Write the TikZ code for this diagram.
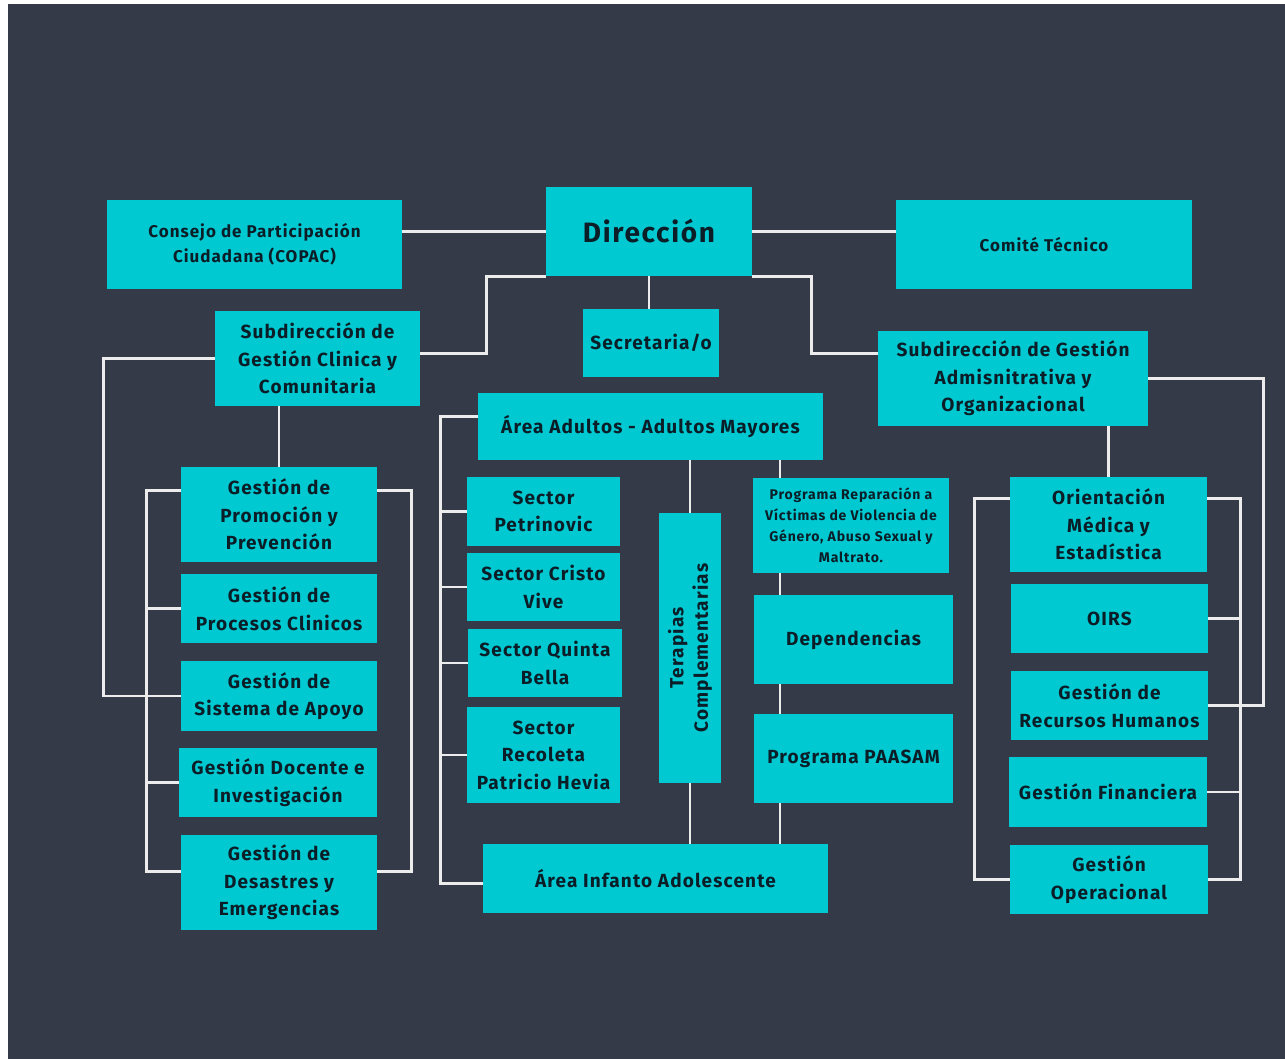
\documentclass[tikz,border=0pt]{standalone}
\usepackage{fontspec}
\setmainfont{Fira Sans}[LetterSpace=6]
\usetikzlibrary{calc}
\definecolor{fondo}{HTML}{353A49}
\definecolor{cian}{HTML}{00C9D1}
\definecolor{tinta}{HTML}{0B1E28}
\definecolor{trazo}{HTML}{ECECEC}

\begin{document}
\begin{tikzpicture}[x=1pt,y=-1pt,
    caja/.style 2 args={fill=cian, text=tinta, align=center, inner sep=0pt,
        font=\bfseries\fontsize{19}{27.5}\selectfont,
        minimum width=#1pt, minimum height=#2pt},
    linea/.style={draw=trazo, line width=2.8pt}]
    % Fondo
    \fill[white] (0,0) rectangle (1285,1059);
    \fill[fondo] (8,4) rectangle (1285,1059);
    \useasboundingbox (0,0) rectangle (1285,1059);

    % Nivel superior
    \node[caja={295}{89}, font=\bfseries\fontsize{17}{25}\selectfont] (copac) at (254.5,244.5) {Consejo de Participación\\Ciudadana (COPAC)};
    \node[caja={206}{89}, font=\bfseries\fontsize{28}{30}\selectfont] (dir) at (649,231.5) {Dirección};
    \node[caja={296}{89}, font=\bfseries\fontsize{17}{25}\selectfont] (comite) at (1044,244.5) {Comité Técnico};
    \node[caja={205}{95}] (subclin) at (317.5,358.5) {Subdirección de\\Gestión Clinica y\\Comunitaria};
    \node[caja={136}{68}] (secre) at (651,343) {Secretaria/o};
    \node[caja={270}{95}] (subadm) at (1013,378.5) {Subdirección de Gestión\\Admisnitrativa y\\Organizacional};

    % Columna izquierda
    \node[caja={196}{95}] (promo) at (279,514.5) {Gestión de\\Promoción y\\Prevención};
    \node[caja={196}{69}] (procesos) at (279,608.5) {Gestión de\\Procesos Clinicos};
    \node[caja={196}{70}] (apoyo) at (279,696) {Gestión de\\Sistema de Apoyo};
    \node[caja={198}{69}] (docente) at (278,782.5) {Gestión Docente e\\Investigación};
    \node[caja={196}{95}] (desastres) at (279,882.5) {Gestión de\\Desastres y\\Emergencias};

    % Columna central
    \node[caja={345}{67}] (adultos) at (650.5,426.5) {Área Adultos - Adultos Mayores};
    \node[caja={153}{69}] (petri) at (543.5,511.5) {Sector\\Petrinovic};
    \node[caja={153}{68}] (cristo) at (543.5,587) {Sector Cristo\\Vive};
    \node[caja={154}{68}] (quinta) at (545,663) {Sector Quinta\\Bella};
    \node[caja={153}{96}] (recoleta) at (543.5,755) {Sector\\Recoleta\\Patricio Hevia};
    \node[caja={62}{270}] (terapias) at (690,648)
        {\rotatebox{90}{\begin{tabular}{@{}c@{}}Terapias\\[-3pt]Complementarias\end{tabular}}};
    \node[caja={196}{95}, font=\bfseries\fontsize{14}{21}\selectfont] (reparacion) at (851,525.5)
        {Programa Reparación a\\Víctimas de Violencia de\\Género, Abuso Sexual y\\Maltrato.};
    \node[caja={199}{89}] (depend) at (853.5,639.5) {Dependencias};
    \node[caja={199}{89}] (paasam) at (853.5,758.5) {Programa PAASAM};
    \node[caja={345}{69}] (infanto) at (655.5,878.5) {Área Infanto Adolescente};

    % Columna derecha
    \node[caja={197}{95}] (orient) at (1108.5,524.5) {Orientación\\Médica y\\Estadística};
    \node[caja={197}{69}] (oirs) at (1109.5,618.5) {OIRS};
    \node[caja={197}{69}] (rrhh) at (1109.5,705.5) {Gestión de\\Recursos Humanos};
    \node[caja={198}{70}] (finan) at (1108,792) {Gestión Financiera};
    \node[caja={198}{69}] (operac) at (1109,879.5) {Gestión\\Operacional};

    % Conectores
    \coordinate (bizq) at (147,0);
    \coordinate (bcen) at (441,0);
    \coordinate (vcen) at (780,0);
    \coordinate (bder) at (1240,0);

    \draw[linea] (dir.west -| copac.east) -- (dir.west);
    \draw[linea] (dir.east) -- (dir.east -| comite.west);
    \draw[linea] (dir.south) -- (dir.south |- secre.north);
    \draw[linea] ([yshift=5pt]subclin.east) -| ([xshift=-59pt]dir.south west) -- (dir.south west);
    \draw[linea] (dir.south east) -- ++(59,0) |- ([yshift=25pt]subadm.west);

    \draw[linea] (promo.north) -- (promo.north |- subclin.south);
    \draw[linea] (subclin.west) -| ([xshift=-77pt]apoyo.west) -- (apoyo.west);
    \draw[linea] ([yshift=24pt]promo.west) -- ++(-34,0) |- ([yshift=11pt]desastres.west);
    \draw[linea] ([yshift=24pt]promo.east) -- ++(34,0) |- ([yshift=11pt]desastres.east);
    \foreach \n in {procesos,apoyo,docente}
        \draw[linea] (\n.west) -- (\n.west -| bizq);

    \draw[linea] ([yshift=10pt]adultos.west) -- ++(-37,0) |- ([yshift=-5pt]infanto.west);
    \foreach \n in {petri,cristo,quinta,recoleta}
        \draw[linea] (\n.west) -- (\n.west -| bcen);
    \draw[linea] (terapias.north) -- (terapias.north |- adultos.south);
    \draw[linea] (terapias.south) -- (terapias.south |- infanto.north);
    \foreach \a/\b in {adultos/reparacion,reparacion/depend,depend/paasam,paasam/infanto}
        \draw[linea] (\a.south -| vcen) -- (\b.north -| vcen);

    \draw[linea] (orient.north) -- (orient.north |- subadm.south);
    \draw[linea] (subadm.east) -| ([xshift=55pt]rrhh.east) -- (rrhh.east);
    \draw[linea] ([yshift=26pt]orient.west) -- ++(-35,0) |- (operac.west);
    \draw[linea] ([yshift=26pt]orient.east) -- ++(33,0) |- (operac.east);
    \foreach \n in {oirs,finan}
        \draw[linea] (\n.east) -- (\n.east -| bder);
\end{tikzpicture}
\end{document}
